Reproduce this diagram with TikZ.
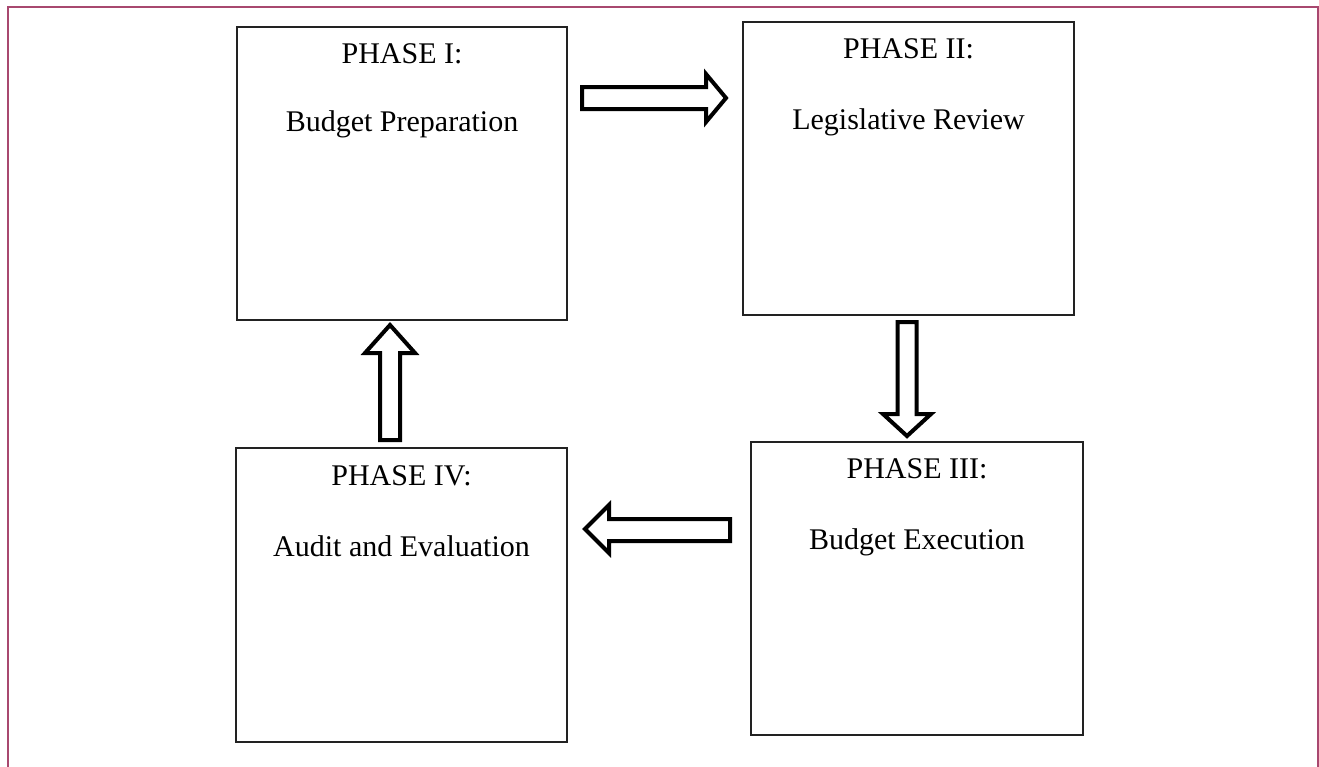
\documentclass[tikz,border=0pt]{standalone}
\usepackage{fontspec}
\setmainfont{Liberation Serif}
\definecolor{framecol}{HTML}{A8486F}
\definecolor{boxcol}{HTML}{222222}
\begin{document}
\begin{tikzpicture}[x=1pt,y=-1pt,
  phasebox/.style={draw=boxcol, line width=1.8pt, inner sep=0pt, outer sep=0pt},
  phasetext/.style={anchor=base, inner sep=0pt, font=\fontsize{30}{36}\selectfont},
  blockarrow/.style={draw=black, fill=white, line width=4pt, line join=miter}]
\useasboundingbox (0,0) rectangle (1319,766);
\clip (0,0) rectangle (1319,766);
% outer frame
\draw[framecol, line width=2.2pt] (8,7) rectangle (1318,800);
% boxes
\node[phasebox, minimum width=330pt, minimum height=293pt] (p1) at (402,173.5) {};
\node[phasebox, minimum width=331pt, minimum height=293pt] (p2) at (908.5,168.5) {};
\node[phasebox, minimum width=332pt, minimum height=293pt] (p3) at (917,588.5) {};
\node[phasebox, minimum width=331pt, minimum height=294pt] (p4) at (401.5,595) {};
% texts
\node[phasetext] (t1a) at (402,63) {PHASE I:};
\node[phasetext] (t1b) at (402,131) {Budget Preparation};
\node[phasetext] (t2a) at (908.5,58.5) {PHASE II:};
\node[phasetext] (t2b) at (908.5,129.5) {Legislative Review};
\node[phasetext] (t3a) at (917,478.5) {PHASE III:};
\node[phasetext] (t3b) at (917,549.5) {Budget Execution};
\node[phasetext] (t4a) at (401.5,485) {PHASE IV:};
\node[phasetext] (t4b) at (401.5,556) {Audit and Evaluation};
% block arrows
% right: I -> II
\draw[blockarrow] (582,87) -- (706,87) -- (706,74) -- (726,98) -- (706,122) -- (706,109) -- (582,109) -- cycle;
% down: II -> III
\draw[blockarrow] (897.5,322) -- (916.5,322) -- (916.5,414) -- (931,414) -- (907,436) -- (883,414) -- (897.5,414) -- cycle;
% left: III -> IV
\draw[blockarrow] (730,519) -- (609,519) -- (609,505) -- (585,529) -- (609,553) -- (609,541) -- (730,541) -- cycle;
% up: IV -> I
\draw[blockarrow] (380,440) -- (400,440) -- (400,353) -- (415,353) -- (390,325) -- (365,353) -- (380,353) -- cycle;
\end{tikzpicture}
\end{document}
